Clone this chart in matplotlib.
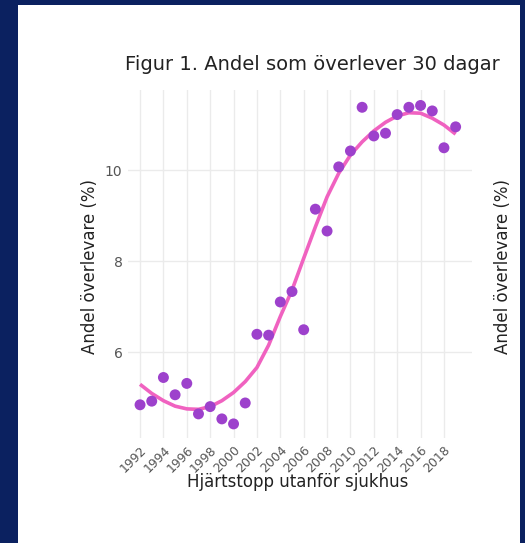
import numpy as np
import matplotlib
matplotlib.use("Agg")
from matplotlib import pyplot as plt

# observed share surviving 30 days (%), per year
years = np.arange(1992, 2020)
andel = np.array([4.84, 4.92, 5.44, 5.06, 5.31, 4.64, 4.80, 4.53, 4.42, 4.88,
                  6.39, 6.37, 7.10, 7.33, 6.49, 9.14, 8.66, 10.07, 10.42, 11.38,
                  10.75, 10.81, 11.22, 11.38, 11.42, 11.30, 10.49, 10.95])

# smoothed trend
trend = np.array([5.29, 5.09, 4.93, 4.81, 4.75, 4.74, 4.80, 4.93, 5.11, 5.35,
                  5.66, 6.15, 6.78, 7.36, 8.06, 8.75, 9.41, 9.93, 10.33, 10.62,
                  10.86, 11.05, 11.19, 11.26, 11.25, 11.14, 10.99, 10.79])

xticks = np.arange(1992, 2019, 2)
yticks = [6, 8, 10]

navy = "#0b2160"
W, H = 525, 543
fig = plt.figure(figsize=(W / 100, H / 100), dpi=100, facecolor=navy)
fig.patches.append(plt.Rectangle((18 / W, 0), 502 / W, 1 - 5 / H, transform=fig.transFigure,
                                 facecolor="white", edgecolor="none", zorder=-5))

ax = fig.add_axes([128 / W, 1 - 438 / H, 344 / W, 348 / H])
ax.set_facecolor("white")
ax.plot(years, trend, color="#f062c0", lw=2.6, zorder=3, solid_capstyle="butt")
ax.scatter(years, andel, s=62, color="#9d41cc", edgecolors="none", zorder=4)

ax.set_xlim(1990.97, 2020.4)
ax.set_ylim(4.11, 11.76)
ax.set_xticks(xticks)
ax.set_xticklabels([str(t) for t in xticks], rotation=45, ha="right", va="top",
                   rotation_mode="anchor", fontsize=9, color="#555555")
ax.set_yticks(yticks)
ax.set_yticklabels([str(t) for t in yticks], fontsize=10, color="#555555")
ax.tick_params(length=0, pad=4)
ax.grid(True, color="#ebebeb", lw=1)
ax.set_axisbelow(True)
for s in ax.spines.values():
    s.set_visible(False)

fig.text(312 / W, 1 - 65 / H, "Figur 1. Andel som överlever 30 dagar",
         ha="center", va="center", fontsize=14, color="#222222")
fig.text(298 / W, 1 - 482 / H, "Hjärtstopp utanför sjukhus",
         ha="center", va="center", fontsize=12, color="#222222")
fig.text(90 / W, 1 - 266 / H, "Andel överlevare (%)", rotation=90,
         ha="center", va="center", fontsize=12, color="#222222")
fig.text(503 / W, 1 - 266 / H, "Andel överlevare (%)", rotation=90,
         ha="center", va="center", fontsize=12, color="#222222")

fig.savefig("out.png", dpi=100, facecolor=navy)
